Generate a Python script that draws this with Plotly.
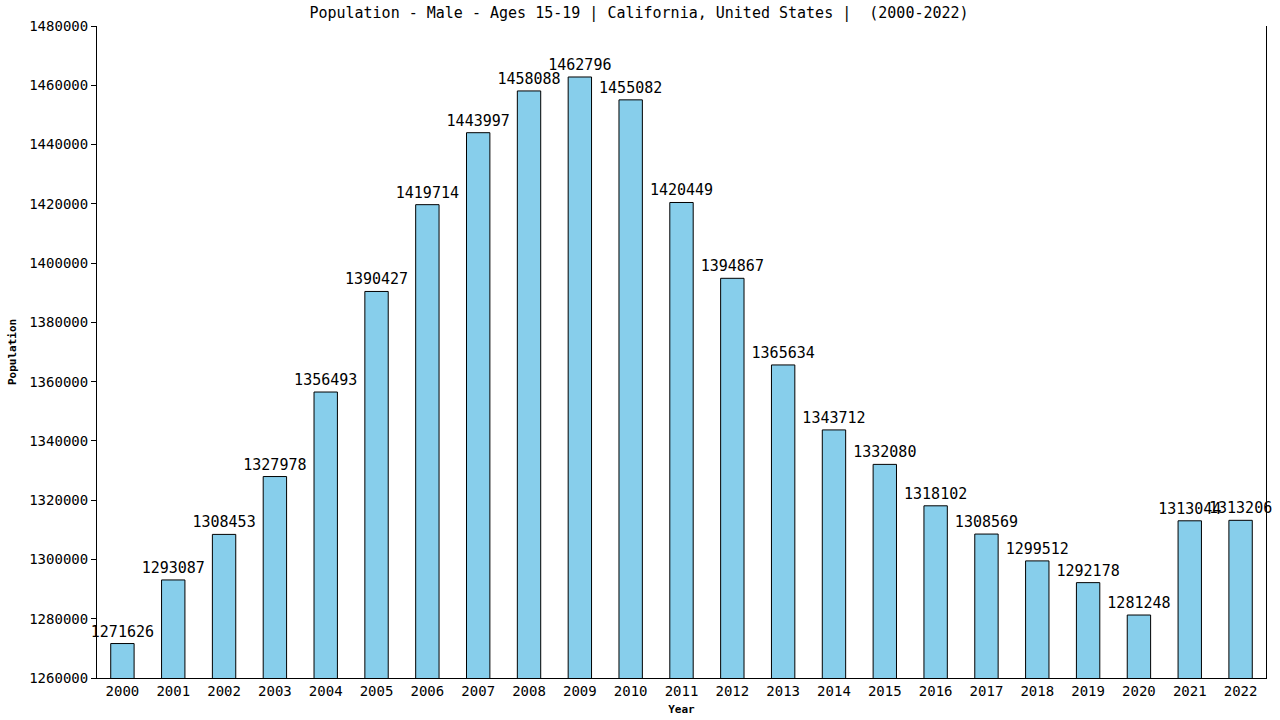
import plotly.graph_objects as go

years = [str(y) for y in range(2000, 2023)]
population = [1271626, 1293087, 1308453, 1327978, 1356493, 1390427, 1419714, 1443997,
              1458088, 1462796, 1455082, 1420449, 1394867, 1365634, 1343712, 1332080,
              1318102, 1308569, 1299512, 1292178, 1281248, 1313044, 1313206]
y_ticks = list(range(1260000, 1480001, 20000))

font_family = "DejaVu Sans Mono"
W, H = 1280, 720
L, R, T, B = 97, 14, 26, 42

fig = go.Figure(go.Bar(
    x=years, y=population,
    marker=dict(color="#87CEEB", line=dict(color="black", width=1)),
    text=[str(v) for v in population],
    textposition="outside",
    constraintext="none",
    textfont=dict(family=font_family, size=15, color="black"),
    cliponaxis=False,
    width=0.46,
))

fig.update_layout(
    width=W, height=H,
    margin=dict(l=L, r=R, t=T, b=B, autoexpand=False),
    plot_bgcolor="white", paper_bgcolor="white",
    showlegend=False,
    font=dict(family=font_family, color="black"),
    title=dict(text="Population - Male - Ages 15-19 | California, United States |  (2000-2022)",
               x=639 / W, xanchor="center", y=1 - 13 / H, yanchor="middle", yref="container",
               font=dict(family=font_family, size=15, color="black")),
    uniformtext=dict(mode=False),
)
fig.add_annotation(
    text="<b>Population</b>", textangle=-90, showarrow=False,
    xref="paper", yref="paper", x=-(L - 12) / (W - L - R), y=0.5,
    xanchor="center", yanchor="middle",
    font=dict(family=font_family, size=11, color="black"),
)
fig.update_xaxes(
    type="category", showline=True, linecolor="black", linewidth=1,
    ticks="", showgrid=False, automargin=False,
    tickfont=dict(family=font_family, size=14, color="black"),
    title=dict(text="<b>Year</b>", font=dict(family=font_family, size=11, color="black"), standoff=7),
)
fig.update_yaxes(
    range=[1260000, 1480000], tickvals=y_ticks, ticktext=[str(v) for v in y_ticks],
    showline=True, linecolor="black", linewidth=1, mirror=True,
    ticks="outside", ticklen=5, tickcolor="black", showgrid=False, zeroline=False,
    automargin=False,
    tickfont=dict(family=font_family, size=14, color="black"),
)

# remove the default page margin so the 1280x720 figure fills the window exactly
fig.write_html("out.html", config={"displayModeBar": False},
               post_script="document.body.style.margin='0';")
